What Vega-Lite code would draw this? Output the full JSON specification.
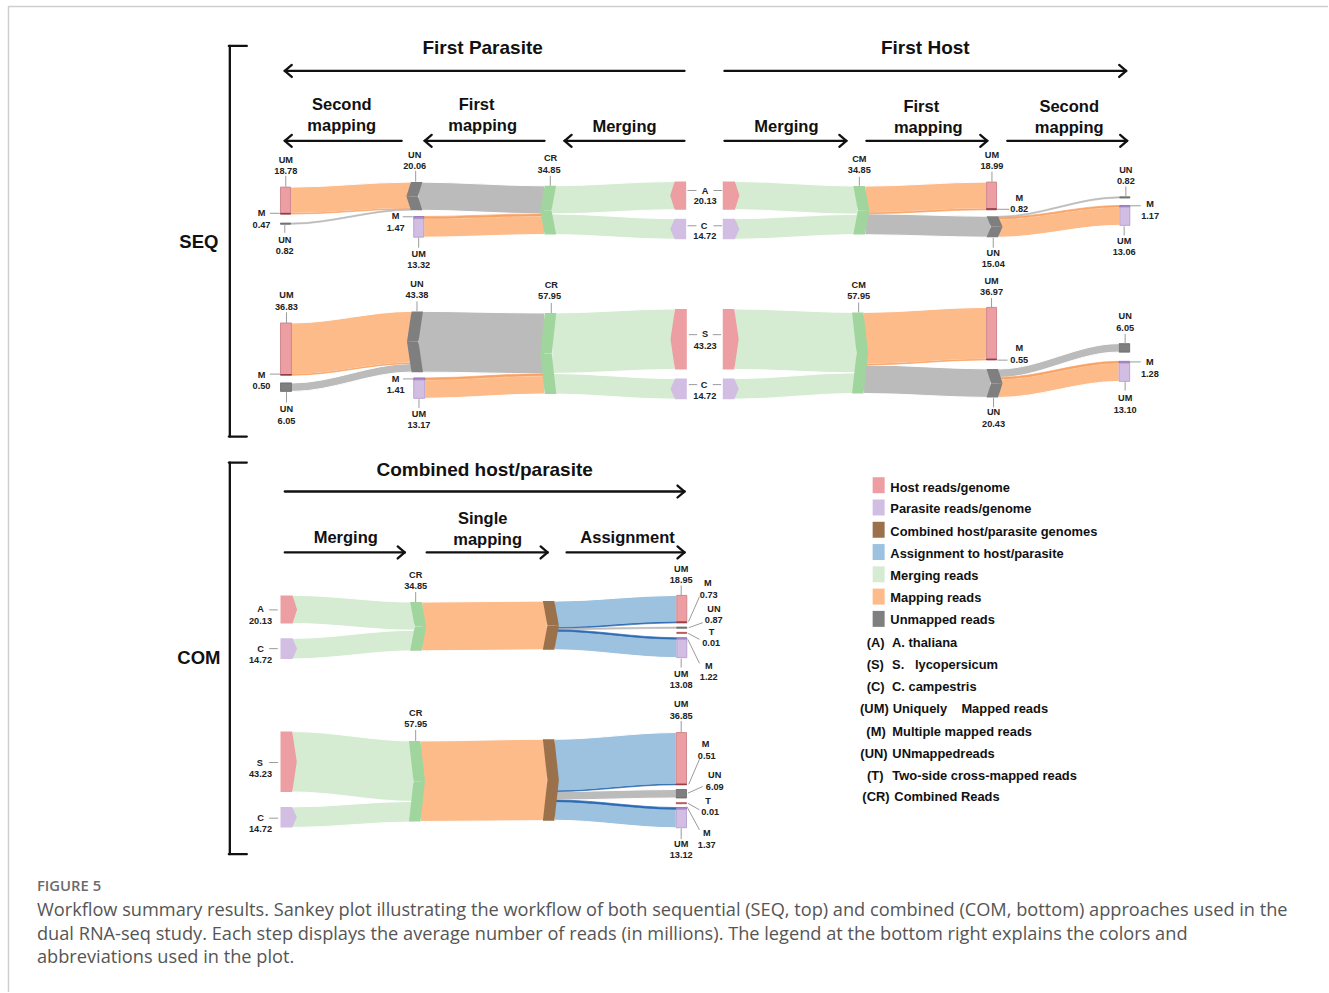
{
"$schema": "https://vega.github.io/schema/vega-lite/v6.json",
"width": 1329, "height": 993,
"autosize": {"type": "fit", "contains": "padding"},
"padding": 0,
"background": "white",
"config": {"view": {"stroke": null}},
"datasets": {
"frame": [{"x":8,"y":6.5,"x2":1329,"y2":6.5},{"x":8.5,"y":6,"x2":8.5,"y2":993}],
"flows": [
{"f":"F1","c":"map","x":290.7,"y":187.3,"y2":213.6},{"f":"F1","c":"map","x":292.2,"y":187.3,"y2":213.6},{"f":"F1","c":"map","x":409.7,"y":182.3,"y2":208.6},{"f":"F1","c":"map","x":411.2,"y":182.3,"y2":208.6},
{"f":"F4","c":"unm","x":418.2,"y":182.3,"y2":210.4},{"f":"F4","c":"unm","x":419.7,"y":182.3,"y2":210.4},{"f":"F4","c":"unm","x":543.5,"y":186,"y2":214.1},{"f":"F4","c":"unm","x":545,"y":186,"y2":214.1},
{"f":"F6","c":"map","x":424,"y":218.8,"y2":237.4},{"f":"F6","c":"map","x":425.5,"y":218.8,"y2":237.4},{"f":"F6","c":"map","x":543.5,"y":216.2,"y2":234.8},{"f":"F6","c":"map","x":545,"y":216.2,"y2":234.8},
{"f":"F7","c":"merge","x":552,"y":186,"y2":214.2},{"f":"F7","c":"merge","x":553.5,"y":186,"y2":214.2},{"f":"F7","c":"merge","x":673.7,"y":181.7,"y2":209.9},{"f":"F7","c":"merge","x":675.2,"y":181.7,"y2":209.9},
{"f":"F8","c":"merge","x":552,"y":214.2,"y2":234.8},{"f":"F8","c":"merge","x":553.5,"y":214.2,"y2":234.8},{"f":"F8","c":"merge","x":673.7,"y":218.9,"y2":239.5},{"f":"F8","c":"merge","x":675.2,"y":218.9,"y2":239.5},
{"f":"F9","c":"merge","x":735.5,"y":181.7,"y2":209.9},{"f":"F9","c":"merge","x":737,"y":181.7,"y2":209.9},{"f":"F9","c":"merge","x":857,"y":186.3,"y2":214.5},{"f":"F9","c":"merge","x":858.5,"y":186.3,"y2":214.5},
{"f":"F10","c":"merge","x":735.5,"y":218.9,"y2":239.5},{"f":"F10","c":"merge","x":737,"y":218.9,"y2":239.5},{"f":"F10","c":"merge","x":857,"y":214.5,"y2":234.8},{"f":"F10","c":"merge","x":858.5,"y":214.5,"y2":234.8},
{"f":"F11","c":"map","x":865.5,"y":186.3,"y2":212.9},{"f":"F11","c":"map","x":867,"y":186.3,"y2":212.9},{"f":"F11","c":"map","x":985.8,"y":182.3,"y2":208.9},{"f":"F11","c":"map","x":987.3,"y":182.3,"y2":208.9},
{"f":"F13","c":"unm","x":865.5,"y":214,"y2":235},{"f":"F13","c":"unm","x":867,"y":214,"y2":235},{"f":"F13","c":"unm","x":990.3,"y":216.5,"y2":237.5},{"f":"F13","c":"unm","x":991.8,"y":216.5,"y2":237.5},
{"f":"F16","c":"map","x":998.8,"y":219.2,"y2":237.5},{"f":"F16","c":"map","x":1000.3,"y":219.2,"y2":237.5},{"f":"F16","c":"map","x":1119.2,"y":207.3,"y2":225.6},{"f":"F16","c":"map","x":1120.7,"y":207.3,"y2":225.6},
{"f":"G1","c":"map","x":291.7,"y":323.3,"y2":374.9},{"f":"G1","c":"map","x":293.2,"y":323.3,"y2":374.9},{"f":"G1","c":"map","x":410.3,"y":311.7,"y2":363.3},{"f":"G1","c":"map","x":411.8,"y":311.7,"y2":363.3},
{"f":"G3","c":"unm","x":291.7,"y":383.3,"y2":391.8},{"f":"G3","c":"unm","x":293.2,"y":383.3,"y2":391.8},{"f":"G3","c":"unm","x":410.3,"y":364,"y2":372.5},{"f":"G3","c":"unm","x":411.8,"y":364,"y2":372.5},
{"f":"G4","c":"unm","x":418.8,"y":311.7,"y2":372.5},{"f":"G4","c":"unm","x":420.3,"y":311.7,"y2":372.5},{"f":"G4","c":"unm","x":543.7,"y":313.3,"y2":374.1},{"f":"G4","c":"unm","x":545.2,"y":313.3,"y2":374.1},
{"f":"G6","c":"map","x":425,"y":380.3,"y2":398.7},{"f":"G6","c":"map","x":426.5,"y":380.3,"y2":398.7},{"f":"G6","c":"map","x":543.7,"y":376.1,"y2":394.4},{"f":"G6","c":"map","x":545.2,"y":376.1,"y2":394.4},
{"f":"G7","c":"merge","x":552.2,"y":313.3,"y2":373.8},{"f":"G7","c":"merge","x":553.7,"y":313.3,"y2":373.8},{"f":"G7","c":"merge","x":674,"y":309.3,"y2":369.8},{"f":"G7","c":"merge","x":675.5,"y":309.3,"y2":369.8},
{"f":"G8","c":"merge","x":552.2,"y":373.8,"y2":394.4},{"f":"G8","c":"merge","x":553.7,"y":373.8,"y2":394.4},{"f":"G8","c":"merge","x":674,"y":379,"y2":399.6},{"f":"G8","c":"merge","x":675.5,"y":379,"y2":399.6},
{"f":"G9","c":"merge","x":734.8,"y":309.3,"y2":369.8},{"f":"G9","c":"merge","x":736.3,"y":309.3,"y2":369.8},{"f":"G9","c":"merge","x":855.7,"y":312.7,"y2":373.2},{"f":"G9","c":"merge","x":857.2,"y":312.7,"y2":373.2},
{"f":"G10","c":"merge","x":734.8,"y":379,"y2":399.6},{"f":"G10","c":"merge","x":736.3,"y":379,"y2":399.6},{"f":"G10","c":"merge","x":855.7,"y":373.2,"y2":393.8},{"f":"G10","c":"merge","x":857.2,"y":373.2,"y2":393.8},
{"f":"G11","c":"map","x":864.2,"y":312.7,"y2":364.5},{"f":"G11","c":"map","x":865.7,"y":312.7,"y2":364.5},{"f":"G11","c":"map","x":985.8,"y":307.7,"y2":359.5},{"f":"G11","c":"map","x":987.3,"y":307.7,"y2":359.5},
{"f":"G13","c":"unm","x":864.2,"y":365.3,"y2":393.9},{"f":"G13","c":"unm","x":865.7,"y":365.3,"y2":393.9},{"f":"G13","c":"unm","x":990.3,"y":369.3,"y2":397.9},{"f":"G13","c":"unm","x":991.8,"y":369.3,"y2":397.9},
{"f":"G14","c":"unm","x":998.8,"y":369.3,"y2":377.8},{"f":"G14","c":"unm","x":1000.3,"y":369.3,"y2":377.8},{"f":"G14","c":"unm","x":1118.5,"y":344,"y2":352.5},{"f":"G14","c":"unm","x":1120,"y":344,"y2":352.5},
{"f":"G16","c":"map","x":998.8,"y":379.6,"y2":397.9},{"f":"G16","c":"map","x":1000.3,"y":379.6,"y2":397.9},{"f":"G16","c":"map","x":1118.5,"y":363.5,"y2":381.8},{"f":"G16","c":"map","x":1120,"y":363.5,"y2":381.8},
{"f":"H1","c":"merge","x":292.8,"y":596,"y2":624.2},{"f":"H1","c":"merge","x":294.3,"y":596,"y2":624.2},{"f":"H1","c":"merge","x":413.5,"y":602.7,"y2":630.9},{"f":"H1","c":"merge","x":415,"y":602.7,"y2":630.9},
{"f":"H2","c":"merge","x":292.8,"y":639,"y2":659.6},{"f":"H2","c":"merge","x":294.3,"y":639,"y2":659.6},{"f":"H2","c":"merge","x":413.5,"y":630.9,"y2":651.5},{"f":"H2","c":"merge","x":415,"y":630.9,"y2":651.5},
{"f":"H3","c":"map","x":422,"y":602.7,"y2":651.5},{"f":"H3","c":"map","x":423.5,"y":602.7,"y2":651.5},{"f":"H3","c":"map","x":546.3,"y":601.7,"y2":650.5},{"f":"H3","c":"map","x":547.8,"y":601.7,"y2":650.5},
{"f":"H4","c":"assign","x":554.8,"y":601.7,"y2":628.2},{"f":"H4","c":"assign","x":556.3,"y":601.7,"y2":628.2},{"f":"H4","c":"assign","x":675.8,"y":596,"y2":622.5},{"f":"H4","c":"assign","x":677.3,"y":596,"y2":622.5},
{"f":"H9","c":"assign","x":554.8,"y":632.1,"y2":650.5},{"f":"H9","c":"assign","x":556.3,"y":632.1,"y2":650.5},{"f":"H9","c":"assign","x":675.8,"y":640,"y2":658.3},{"f":"H9","c":"assign","x":677.3,"y":640,"y2":658.3},
{"f":"I1","c":"merge","x":292.5,"y":732.3,"y2":792.8},{"f":"I1","c":"merge","x":294,"y":732.3,"y2":792.8},{"f":"I1","c":"merge","x":412.3,"y":741.7,"y2":802.2},{"f":"I1","c":"merge","x":413.8,"y":741.7,"y2":802.2},
{"f":"I2","c":"merge","x":292.5,"y":807.7,"y2":828.3},{"f":"I2","c":"merge","x":294,"y":807.7,"y2":828.3},{"f":"I2","c":"merge","x":412.3,"y":802.2,"y2":822.8},{"f":"I2","c":"merge","x":413.8,"y":802.2,"y2":822.8},
{"f":"I3","c":"map","x":420.8,"y":741.7,"y2":822.3},{"f":"I3","c":"map","x":422.3,"y":741.7,"y2":822.3},{"f":"I3","c":"map","x":546.3,"y":740,"y2":821.5},{"f":"I3","c":"map","x":547.8,"y":740,"y2":821.5},
{"f":"I4","c":"assign","x":554.8,"y":740,"y2":791.6},{"f":"I4","c":"assign","x":556.3,"y":740,"y2":791.6},{"f":"I4","c":"assign","x":675.2,"y":733.3,"y2":784.9},{"f":"I4","c":"assign","x":676.7,"y":733.3,"y2":784.9},
{"f":"I6","c":"unm","x":554.8,"y":792.3,"y2":800.8},{"f":"I6","c":"unm","x":556.3,"y":792.3,"y2":800.8},{"f":"I6","c":"unm","x":675.2,"y":790.3,"y2":798.8},{"f":"I6","c":"unm","x":676.7,"y":790.3,"y2":798.8},
{"f":"I9","c":"assign","x":554.8,"y":802.7,"y2":821.1},{"f":"I9","c":"assign","x":556.3,"y":802.7,"y2":821.1},{"f":"I9","c":"assign","x":675.2,"y":810.2,"y2":828.6},{"f":"I9","c":"assign","x":676.7,"y":810.2,"y2":828.6}
],
"thin": [
{"f":"F2","c":"mapM","x":290.7,"y":213.6,"y2":214.3},{"f":"F2","c":"mapM","x":292.2,"y":213.6,"y2":214.3},{"f":"F2","c":"mapM","x":409.7,"y":208.6,"y2":209.3},{"f":"F2","c":"mapM","x":411.2,"y":208.6,"y2":209.3},
{"f":"F3","c":"unm","x":290.7,"y":223.3,"y2":224.4},{"f":"F3","c":"unm","x":292.2,"y":223.3,"y2":224.4},{"f":"F3","c":"unm","x":409.7,"y":209.3,"y2":210.4},{"f":"F3","c":"unm","x":411.2,"y":209.3,"y2":210.4},
{"f":"F5","c":"mapM","x":424,"y":216.7,"y2":218.8},{"f":"F5","c":"mapM","x":425.5,"y":216.7,"y2":218.8},{"f":"F5","c":"mapM","x":543.5,"y":214.1,"y2":216.2},{"f":"F5","c":"mapM","x":545,"y":214.1,"y2":216.2},
{"f":"F12","c":"mapM","x":865.5,"y":212.9,"y2":214},{"f":"F12","c":"mapM","x":867,"y":212.9,"y2":214},{"f":"F12","c":"mapM","x":985.8,"y":208.9,"y2":210},{"f":"F12","c":"mapM","x":987.3,"y":208.9,"y2":210},
{"f":"F14","c":"unm","x":998.8,"y":216.5,"y2":217.6},{"f":"F14","c":"unm","x":1000.3,"y":216.5,"y2":217.6},{"f":"F14","c":"unm","x":1119.2,"y":197,"y2":198.2},{"f":"F14","c":"unm","x":1120.7,"y":197,"y2":198.2},
{"f":"F15","c":"mapM","x":998.8,"y":217.6,"y2":219.2},{"f":"F15","c":"mapM","x":1000.3,"y":217.6,"y2":219.2},{"f":"F15","c":"mapM","x":1119.2,"y":205.7,"y2":207.3},{"f":"F15","c":"mapM","x":1120.7,"y":205.7,"y2":207.3},
{"f":"G2","c":"mapM","x":291.7,"y":374.9,"y2":375.6},{"f":"G2","c":"mapM","x":293.2,"y":374.9,"y2":375.6},{"f":"G2","c":"mapM","x":410.3,"y":363.3,"y2":364},{"f":"G2","c":"mapM","x":411.8,"y":363.3,"y2":364},
{"f":"G5","c":"mapM","x":425,"y":378.3,"y2":380.3},{"f":"G5","c":"mapM","x":426.5,"y":378.3,"y2":380.3},{"f":"G5","c":"mapM","x":543.7,"y":374.1,"y2":376.1},{"f":"G5","c":"mapM","x":545.2,"y":374.1,"y2":376.1},
{"f":"G12","c":"mapM","x":864.2,"y":364.5,"y2":365.3},{"f":"G12","c":"mapM","x":865.7,"y":364.5,"y2":365.3},{"f":"G12","c":"mapM","x":985.8,"y":359.5,"y2":360.3},{"f":"G12","c":"mapM","x":987.3,"y":359.5,"y2":360.3},
{"f":"G15","c":"mapM","x":998.8,"y":377.8,"y2":379.6},{"f":"G15","c":"mapM","x":1000.3,"y":377.8,"y2":379.6},{"f":"G15","c":"mapM","x":1118.5,"y":361.7,"y2":363.5},{"f":"G15","c":"mapM","x":1120,"y":361.7,"y2":363.5},
{"f":"H5","c":"assignM","x":554.8,"y":628.2,"y2":629.2},{"f":"H5","c":"assignM","x":556.3,"y":628.2,"y2":629.2},{"f":"H5","c":"assignM","x":675.8,"y":622.5,"y2":623.5},{"f":"H5","c":"assignM","x":677.3,"y":622.5,"y2":623.5},
{"f":"H6","c":"unm","x":554.8,"y":629.2,"y2":630.4},{"f":"H6","c":"unm","x":556.3,"y":629.2,"y2":630.4},{"f":"H6","c":"unm","x":675.8,"y":627.7,"y2":628.9},{"f":"H6","c":"unm","x":677.3,"y":627.7,"y2":628.9},
{"f":"H8","c":"assignM","x":554.8,"y":630.4,"y2":632.1},{"f":"H8","c":"assignM","x":556.3,"y":630.4,"y2":632.1},{"f":"H8","c":"assignM","x":675.8,"y":638.3,"y2":640},{"f":"H8","c":"assignM","x":677.3,"y":638.3,"y2":640},
{"f":"I5","c":"assignM","x":554.8,"y":791.6,"y2":792.3},{"f":"I5","c":"assignM","x":556.3,"y":791.6,"y2":792.3},{"f":"I5","c":"assignM","x":675.2,"y":784.9,"y2":785.6},{"f":"I5","c":"assignM","x":676.7,"y":784.9,"y2":785.6},
{"f":"I8","c":"assignM","x":554.8,"y":800.8,"y2":802.7},{"f":"I8","c":"assignM","x":556.3,"y":800.8,"y2":802.7},{"f":"I8","c":"assignM","x":675.2,"y":808.3,"y2":810.2},{"f":"I8","c":"assignM","x":676.7,"y":808.3,"y2":810.2}
],
"shapes": [
{"f":"C1a","c":"unmnode","x":406.7,"y":196.35,"y2":196.35},{"f":"C1a","c":"unmnode","x":411.2,"y":182.3,"y2":196.35},{"f":"C1a","c":"unmnode","x":418.2,"y":182.3,"y2":196.35},{"f":"C1a","c":"unmnode","x":422.7,"y":182.3,"y2":182.3},
{"f":"C1b","c":"unmnode","x":406.7,"y":196.35,"y2":196.35},{"f":"C1b","c":"unmnode","x":411.2,"y":196.35,"y2":210.4},{"f":"C1b","c":"unmnode","x":418.2,"y":196.35,"y2":210.4},{"f":"C1b","c":"unmnode","x":422.7,"y":210.4,"y2":210.4},
{"f":"C2a","c":"mergenode","x":540.5,"y":210.4,"y2":210.4},{"f":"C2a","c":"mergenode","x":545,"y":186,"y2":210.4},{"f":"C2a","c":"mergenode","x":552,"y":186,"y2":210.4},{"f":"C2a","c":"mergenode","x":556.5,"y":186,"y2":186},
{"f":"C2b","c":"mergenode","x":540.5,"y":210.4,"y2":210.4},{"f":"C2b","c":"mergenode","x":545,"y":210.4,"y2":234.8},{"f":"C2b","c":"mergenode","x":552,"y":210.4,"y2":234.8},{"f":"C2b","c":"mergenode","x":556.5,"y":234.8,"y2":234.8},
{"f":"C3a","c":"mergenode","x":854,"y":186.3,"y2":186.3},{"f":"C3a","c":"mergenode","x":858.5,"y":186.3,"y2":210.55},{"f":"C3a","c":"mergenode","x":865.5,"y":186.3,"y2":210.55},{"f":"C3a","c":"mergenode","x":870,"y":210.55,"y2":210.55},
{"f":"C3b","c":"mergenode","x":854,"y":234.8,"y2":234.8},{"f":"C3b","c":"mergenode","x":858.5,"y":210.55,"y2":234.8},{"f":"C3b","c":"mergenode","x":865.5,"y":210.55,"y2":234.8},{"f":"C3b","c":"mergenode","x":870,"y":210.55,"y2":210.55},
{"f":"C4a","c":"unmnode","x":987.3,"y":216.5,"y2":216.5},{"f":"C4a","c":"unmnode","x":991.8,"y":216.5,"y2":227},{"f":"C4a","c":"unmnode","x":998.8,"y":216.5,"y2":227},{"f":"C4a","c":"unmnode","x":1003.3,"y":227,"y2":227},
{"f":"C4b","c":"unmnode","x":987.3,"y":237.5,"y2":237.5},{"f":"C4b","c":"unmnode","x":991.8,"y":227,"y2":237.5},{"f":"C4b","c":"unmnode","x":998.8,"y":227,"y2":237.5},{"f":"C4b","c":"unmnode","x":1003.3,"y":227,"y2":227},
{"f":"C5a","c":"unmnode","x":407.3,"y":342.1,"y2":342.1},{"f":"C5a","c":"unmnode","x":411.8,"y":311.7,"y2":342.1},{"f":"C5a","c":"unmnode","x":418.8,"y":311.7,"y2":342.1},{"f":"C5a","c":"unmnode","x":423.3,"y":311.7,"y2":311.7},
{"f":"C5b","c":"unmnode","x":407.3,"y":342.1,"y2":342.1},{"f":"C5b","c":"unmnode","x":411.8,"y":342.1,"y2":372.5},{"f":"C5b","c":"unmnode","x":418.8,"y":342.1,"y2":372.5},{"f":"C5b","c":"unmnode","x":423.3,"y":372.5,"y2":372.5},
{"f":"C6a","c":"mergenode","x":540.7,"y":353.85,"y2":353.85},{"f":"C6a","c":"mergenode","x":545.2,"y":313.3,"y2":353.85},{"f":"C6a","c":"mergenode","x":552.2,"y":313.3,"y2":353.85},{"f":"C6a","c":"mergenode","x":556.7,"y":313.3,"y2":313.3},
{"f":"C6b","c":"mergenode","x":540.7,"y":353.85,"y2":353.85},{"f":"C6b","c":"mergenode","x":545.2,"y":353.85,"y2":394.4},{"f":"C6b","c":"mergenode","x":552.2,"y":353.85,"y2":394.4},{"f":"C6b","c":"mergenode","x":556.7,"y":394.4,"y2":394.4},
{"f":"C7a","c":"mergenode","x":852.7,"y":312.7,"y2":312.7},{"f":"C7a","c":"mergenode","x":857.2,"y":312.7,"y2":353.25},{"f":"C7a","c":"mergenode","x":864.2,"y":312.7,"y2":353.25},{"f":"C7a","c":"mergenode","x":868.7,"y":353.25,"y2":353.25},
{"f":"C7b","c":"mergenode","x":852.7,"y":393.8,"y2":393.8},{"f":"C7b","c":"mergenode","x":857.2,"y":353.25,"y2":393.8},{"f":"C7b","c":"mergenode","x":864.2,"y":353.25,"y2":393.8},{"f":"C7b","c":"mergenode","x":868.7,"y":353.25,"y2":353.25},
{"f":"C8a","c":"unmnode","x":987.3,"y":369.3,"y2":369.3},{"f":"C8a","c":"unmnode","x":991.8,"y":369.3,"y2":383.6},{"f":"C8a","c":"unmnode","x":998.8,"y":369.3,"y2":383.6},{"f":"C8a","c":"unmnode","x":1003.3,"y":383.6,"y2":383.6},
{"f":"C8b","c":"unmnode","x":987.3,"y":397.9,"y2":397.9},{"f":"C8b","c":"unmnode","x":991.8,"y":383.6,"y2":397.9},{"f":"C8b","c":"unmnode","x":998.8,"y":383.6,"y2":397.9},{"f":"C8b","c":"unmnode","x":1003.3,"y":383.6,"y2":383.6},
{"f":"C9a","c":"mergenode","x":410.5,"y":602.7,"y2":602.7},{"f":"C9a","c":"mergenode","x":415,"y":602.7,"y2":627.1},{"f":"C9a","c":"mergenode","x":422,"y":602.7,"y2":627.1},{"f":"C9a","c":"mergenode","x":426.5,"y":627.1,"y2":627.1},
{"f":"C9b","c":"mergenode","x":410.5,"y":651.5,"y2":651.5},{"f":"C9b","c":"mergenode","x":415,"y":627.1,"y2":651.5},{"f":"C9b","c":"mergenode","x":422,"y":627.1,"y2":651.5},{"f":"C9b","c":"mergenode","x":426.5,"y":627.1,"y2":627.1},
{"f":"C10a","c":"comb","x":543.3,"y":601.7,"y2":601.7},{"f":"C10a","c":"comb","x":547.8,"y":601.7,"y2":626.1},{"f":"C10a","c":"comb","x":554.8,"y":601.7,"y2":626.1},{"f":"C10a","c":"comb","x":559.3,"y":626.1,"y2":626.1},
{"f":"C10b","c":"comb","x":543.3,"y":650.5,"y2":650.5},{"f":"C10b","c":"comb","x":547.8,"y":626.1,"y2":650.5},{"f":"C10b","c":"comb","x":554.8,"y":626.1,"y2":650.5},{"f":"C10b","c":"comb","x":559.3,"y":626.1,"y2":626.1},
{"f":"C11a","c":"mergenode","x":409.3,"y":741.7,"y2":741.7},{"f":"C11a","c":"mergenode","x":413.8,"y":741.7,"y2":782},{"f":"C11a","c":"mergenode","x":420.8,"y":741.7,"y2":782},{"f":"C11a","c":"mergenode","x":425.3,"y":782,"y2":782},
{"f":"C11b","c":"mergenode","x":409.3,"y":822.3,"y2":822.3},{"f":"C11b","c":"mergenode","x":413.8,"y":782,"y2":822.3},{"f":"C11b","c":"mergenode","x":420.8,"y":782,"y2":822.3},{"f":"C11b","c":"mergenode","x":425.3,"y":782,"y2":782},
{"f":"C12a","c":"comb","x":543.3,"y":740,"y2":740},{"f":"C12a","c":"comb","x":547.8,"y":740,"y2":780.75},{"f":"C12a","c":"comb","x":554.8,"y":740,"y2":780.75},{"f":"C12a","c":"comb","x":559.3,"y":780.75,"y2":780.75},
{"f":"C12b","c":"comb","x":543.3,"y":821.5,"y2":821.5},{"f":"C12b","c":"comb","x":547.8,"y":780.75,"y2":821.5},{"f":"C12b","c":"comb","x":554.8,"y":780.75,"y2":821.5},{"f":"C12b","c":"comb","x":559.3,"y":780.75,"y2":780.75},
{"f":"P1","c":"host","x":670.7,"y":195.8,"y2":195.8},{"f":"P1","c":"host","x":675.2,"y":181.7,"y2":209.9},{"f":"P1","c":"host","x":686.7,"y":181.7,"y2":209.9},
{"f":"P2","c":"para","x":670.7,"y":229.2,"y2":229.2},{"f":"P2","c":"para","x":675.2,"y":218.9,"y2":239.5},{"f":"P2","c":"para","x":686.7,"y":218.9,"y2":239.5},
{"f":"P3","c":"host","x":723.3,"y":181.7,"y2":209.9},{"f":"P3","c":"host","x":735.5,"y":181.7,"y2":209.9},{"f":"P3","c":"host","x":740,"y":195.8,"y2":195.8},
{"f":"P4","c":"para","x":723.3,"y":218.9,"y2":239.5},{"f":"P4","c":"para","x":735.5,"y":218.9,"y2":239.5},{"f":"P4","c":"para","x":740,"y":229.2,"y2":229.2},
{"f":"P5","c":"host","x":671,"y":339.55,"y2":339.55},{"f":"P5","c":"host","x":675.5,"y":309.3,"y2":369.8},{"f":"P5","c":"host","x":687.3,"y":309.3,"y2":369.8},
{"f":"P6","c":"para","x":671,"y":389.3,"y2":389.3},{"f":"P6","c":"para","x":675.5,"y":379,"y2":399.6},{"f":"P6","c":"para","x":687.3,"y":379,"y2":399.6},
{"f":"P7","c":"host","x":723.3,"y":309.3,"y2":369.8},{"f":"P7","c":"host","x":734.8,"y":309.3,"y2":369.8},{"f":"P7","c":"host","x":739.3,"y":339.55,"y2":339.55},
{"f":"P8","c":"para","x":723.3,"y":379,"y2":399.6},{"f":"P8","c":"para","x":734.8,"y":379,"y2":399.6},{"f":"P8","c":"para","x":739.3,"y":389.3,"y2":389.3},
{"f":"P9","c":"host","x":280.7,"y":596,"y2":624.2},{"f":"P9","c":"host","x":292.8,"y":596,"y2":624.2},{"f":"P9","c":"host","x":297.3,"y":610.1,"y2":610.1},
{"f":"P10","c":"para","x":280.7,"y":639,"y2":659.6},{"f":"P10","c":"para","x":292.8,"y":639,"y2":659.6},{"f":"P10","c":"para","x":297.3,"y":649.3,"y2":649.3},
{"f":"P11","c":"host","x":280.7,"y":732.3,"y2":792.8},{"f":"P11","c":"host","x":292.5,"y":732.3,"y2":792.8},{"f":"P11","c":"host","x":297,"y":762.55,"y2":762.55},
{"f":"P12","c":"para","x":280.7,"y":807.7,"y2":828.3},{"f":"P12","c":"para","x":292.5,"y":807.7,"y2":828.3},{"f":"P12","c":"para","x":297,"y":818,"y2":818}
],
"rects": [
{"c":"host","x":280.7,"x2":290.7,"y":187.3,"y2":213.6},{"c":"hostM","x":280.7,"x2":290.7,"y":213.6,"y2":214.4},{"c":"unmnode","x":280.7,"x2":290.7,"y":223.3,"y2":224.5},
{"c":"paraM","x":414,"x2":424,"y":216.7,"y2":218.8},{"c":"para","x":414,"x2":424,"y":218.8,"y2":237.4},
{"c":"host","x":987.3,"x2":997.3,"y":182.3,"y2":208.9},{"c":"hostM","x":987.3,"x2":997.3,"y":208.9,"y2":210},
{"c":"unmnode","x":1120.7,"x2":1130.7,"y":197,"y2":198.2},{"c":"paraM","x":1120.7,"x2":1130.7,"y":205.7,"y2":207.3},{"c":"para","x":1120.7,"x2":1130.7,"y":207.3,"y2":225.6},
{"c":"host","x":280.7,"x2":291.7,"y":323.3,"y2":374.9},{"c":"hostM","x":280.7,"x2":291.7,"y":374.9,"y2":375.6},{"c":"unmnode","x":280.7,"x2":291.7,"y":383.3,"y2":391.8},
{"c":"paraM","x":414,"x2":425,"y":378.3,"y2":380.3},{"c":"para","x":414,"x2":425,"y":380.3,"y2":398.7},
{"c":"host","x":987.3,"x2":997.3,"y":307.7,"y2":359.5},{"c":"hostM","x":987.3,"x2":997.3,"y":359.5,"y2":360.3},
{"c":"unmnode","x":1120,"x2":1130.5,"y":344,"y2":352.5},{"c":"paraM","x":1120,"x2":1130.5,"y":361.7,"y2":363.5},{"c":"para","x":1120,"x2":1130.5,"y":363.5,"y2":381.8},
{"c":"host","x":677.3,"x2":687.3,"y":596,"y2":622.5},{"c":"hostM","x":677.3,"x2":687.3,"y":622.5,"y2":623.5},{"c":"unmnode","x":677.3,"x2":687.3,"y":627.7,"y2":628.9},
{"c":"T","x":677.3,"x2":687.3,"y":633,"y2":634},{"c":"paraM","x":677.3,"x2":687.3,"y":638.3,"y2":640},{"c":"para","x":677.3,"x2":687.3,"y":640,"y2":658.3},
{"c":"host","x":676.7,"x2":687,"y":733.3,"y2":784.9},{"c":"hostM","x":676.7,"x2":687,"y":784.9,"y2":785.6},{"c":"unmnode","x":676.7,"x2":687,"y":790.3,"y2":798.8},
{"c":"T","x":676.7,"x2":687,"y":803.5,"y2":804.5},{"c":"paraM","x":676.7,"x2":687,"y":808.3,"y2":810.2},{"c":"para","x":676.7,"x2":687,"y":810.2,"y2":828.6}
],
"legend": [
{"c":"host","x":873.3,"x2":885.3,"y":477.7,"y2":493.7},{"c":"para","x":873.3,"x2":885.3,"y":500,"y2":516},{"c":"comb","x":873.3,"x2":885.3,"y":522.3,"y2":538.3},
{"c":"assign","x":873.3,"x2":885.3,"y":544.6,"y2":560.6},{"c":"merge","x":873.3,"x2":885.3,"y":566.9,"y2":582.9},{"c":"map","x":873.3,"x2":885.3,"y":589.2,"y2":605.2},{"c":"unmnode","x":873.3,"x2":885.3,"y":611.5,"y2":627.5}
],
"leaders": [
{"x":286,"y":176,"x2":286,"y2":187},{"x":270,"y":213.5,"x2":280,"y2":213.5},{"x":285,"y":225,"x2":285,"y2":233},
{"x":416,"y":171,"x2":416,"y2":182},{"x":403,"y":217,"x2":413,"y2":217},{"x":419,"y":238,"x2":419,"y2":248},
{"x":550.7,"y":176,"x2":550.7,"y2":186},{"x":688,"y":190.7,"x2":697,"y2":190.7},{"x":714,"y":190.7,"x2":722.7,"y2":190.7},
{"x":688,"y":226,"x2":697,"y2":226},{"x":714,"y":226,"x2":722.7,"y2":226},{"x":860,"y":177,"x2":860,"y2":186},
{"x":992.7,"y":171.7,"x2":992.7,"y2":182},{"x":997.3,"y":209.5,"x2":1010,"y2":209.5},{"x":994,"y":238,"x2":994,"y2":248},
{"x":1126.7,"y":186.7,"x2":1126.7,"y2":196.7},{"x":1131,"y":206,"x2":1141.7,"y2":206},{"x":1125,"y":226.5,"x2":1125,"y2":235.7},
{"x":286.7,"y":312.7,"x2":286.7,"y2":323.3},{"x":270,"y":374.5,"x2":280.7,"y2":374.5},{"x":286.7,"y":392.5,"x2":286.7,"y2":403},
{"x":417.3,"y":301.7,"x2":417.3,"y2":311.7},{"x":403.3,"y":379.3,"x2":413.3,"y2":379.3},{"x":419.3,"y":399.5,"x2":419.3,"y2":408.3},
{"x":551.7,"y":303.3,"x2":551.7,"y2":313.3},{"x":689.3,"y":335,"x2":697.7,"y2":335},{"x":713.3,"y":335,"x2":721.7,"y2":335},
{"x":689.3,"y":385,"x2":697.7,"y2":385},{"x":713.3,"y":385,"x2":721.7,"y2":385},{"x":859.3,"y":302.7,"x2":859.3,"y2":312.7},
{"x":992.3,"y":298.3,"x2":992.3,"y2":307.7},{"x":998.3,"y":360.5,"x2":1008.3,"y2":360.5},{"x":994.3,"y":398.3,"x2":994.3,"y2":407.7},
{"x":1126,"y":334.3,"x2":1126,"y2":344},{"x":1131,"y":362.3,"x2":1141.7,"y2":362.3},{"x":1126,"y":382.3,"x2":1126,"y2":391},
{"x":269.3,"y":610.5,"x2":278,"y2":610.5},{"x":269.3,"y":649.3,"x2":278,"y2":649.3},{"x":416,"y":592.7,"x2":416,"y2":602.7},
{"x":681.7,"y":586,"x2":681.7,"y2":596},{"x":689,"y":622.3,"x2":700,"y2":597.3},{"x":689.3,"y":628.3,"x2":703.3,"y2":623.3},
{"x":688.7,"y":634,"x2":700,"y2":640},{"x":688.3,"y":640,"x2":700,"y2":664},{"x":681.7,"y":659.3,"x2":681.7,"y2":668.3},
{"x":269.3,"y":763.3,"x2":278.3,"y2":763.3},{"x":269.3,"y":819,"x2":278.3,"y2":819},{"x":416,"y":730.7,"x2":416,"y2":741.7},
{"x":681.7,"y":721.7,"x2":681.7,"y2":733.3},{"x":689.3,"y":785,"x2":700,"y2":760},{"x":688.3,"y":794,"x2":703.3,"y2":787.3},
{"x":688.3,"y":804,"x2":700,"y2":810.7},{"x":687.3,"y":807.3,"x2":700,"y2":830.7},{"x":681.7,"y":829.3,"x2":681.7,"y2":840}
],
"lines": [
{"x":230,"y":46,"x2":230,"y2":437},{"x":229,"y":46,"x2":247,"y2":46},{"x":229,"y":437,"x2":247,"y2":437},
{"x":230,"y":463,"x2":230,"y2":855},{"x":229,"y":463,"x2":247,"y2":463},{"x":229,"y":855,"x2":247,"y2":855},
{"x":285,"y":71,"x2":685,"y2":71},{"x":725,"y":71,"x2":1127,"y2":71},{"x":285,"y":492,"x2":685,"y2":492},
{"x":285,"y":141,"x2":402,"y2":141},{"x":425,"y":141,"x2":545,"y2":141},{"x":565,"y":141,"x2":685,"y2":141},
{"x":725,"y":141,"x2":847,"y2":141},{"x":867,"y":141,"x2":988,"y2":141},{"x":1008,"y":141,"x2":1128,"y2":141},
{"x":285,"y":553,"x2":405,"y2":553},{"x":427,"y":553,"x2":548,"y2":553},{"x":567,"y":553,"x2":685,"y2":553},
{"x":285,"y":71,"x2":292,"y2":65},{"x":285,"y":71,"x2":292,"y2":77},
{"x":1127,"y":71,"x2":1120,"y2":65},{"x":1127,"y":71,"x2":1120,"y2":77},
{"x":685,"y":492,"x2":678,"y2":486},{"x":685,"y":492,"x2":678,"y2":498},
{"x":285,"y":141,"x2":292,"y2":135},{"x":285,"y":141,"x2":292,"y2":147},
{"x":425,"y":141,"x2":432,"y2":135},{"x":425,"y":141,"x2":432,"y2":147},
{"x":565,"y":141,"x2":572,"y2":135},{"x":565,"y":141,"x2":572,"y2":147},
{"x":847,"y":141,"x2":840,"y2":135},{"x":847,"y":141,"x2":840,"y2":147},
{"x":988,"y":141,"x2":981,"y2":135},{"x":988,"y":141,"x2":981,"y2":147},
{"x":1128,"y":141,"x2":1121,"y2":135},{"x":1128,"y":141,"x2":1121,"y2":147},
{"x":405,"y":553,"x2":398,"y2":547},{"x":405,"y":553,"x2":398,"y2":559},
{"x":548,"y":553,"x2":541,"y2":547},{"x":548,"y":553,"x2":541,"y2":559},
{"x":685,"y":553,"x2":678,"y2":547},{"x":685,"y":553,"x2":678,"y2":559}
],
"texts": [
{"g":"n","x":286,"y":160,"t":"UM"},{"g":"n","x":286,"y":171.5,"t":"18.78"},
{"g":"n","x":261.7,"y":213.3,"t":"M"},{"g":"n","x":261.7,"y":225,"t":"0.47"},
{"g":"n","x":285,"y":240,"t":"UN"},{"g":"n","x":285,"y":251.7,"t":"0.82"},
{"g":"n","x":415,"y":155,"t":"UN"},{"g":"n","x":415,"y":166.3,"t":"20.06"},
{"g":"n","x":396,"y":216.7,"t":"M"},{"g":"n","x":396,"y":228.3,"t":"1.47"},
{"g":"n","x":419,"y":254,"t":"UM"},{"g":"n","x":419,"y":265.3,"t":"13.32"},
{"g":"n","x":551,"y":158.3,"t":"CR"},{"g":"n","x":549.5,"y":170,"t":"34.85"},
{"g":"n","x":705.7,"y":190.7,"t":"A"},{"g":"n","x":705.7,"y":201.3,"t":"20.13"},
{"g":"n","x":704.7,"y":226,"t":"C"},{"g":"n","x":705.3,"y":236,"t":"14.72"},
{"g":"n","x":860,"y":159,"t":"CM"},{"g":"n","x":860,"y":170,"t":"34.85"},
{"g":"n","x":992.7,"y":155,"t":"UM"},{"g":"n","x":992.7,"y":166,"t":"18.99"},
{"g":"n","x":1020,"y":198.3,"t":"M"},{"g":"n","x":1020,"y":209.3,"t":"0.82"},
{"g":"n","x":994,"y":253.3,"t":"UN"},{"g":"n","x":994,"y":264.3,"t":"15.04"},
{"g":"n","x":1126.7,"y":170,"t":"UN"},{"g":"n","x":1126.7,"y":181.3,"t":"0.82"},
{"g":"n","x":1151,"y":204.3,"t":"M"},{"g":"n","x":1151,"y":216,"t":"1.17"},
{"g":"n","x":1125,"y":241.7,"t":"UM"},{"g":"n","x":1125,"y":252.7,"t":"13.06"},
{"g":"n","x":286.7,"y":295.7,"t":"UM"},{"g":"n","x":286.7,"y":307.3,"t":"36.83"},
{"g":"n","x":261.7,"y":375,"t":"M"},{"g":"n","x":261.7,"y":386.7,"t":"0.50"},
{"g":"n","x":286.7,"y":409.7,"t":"UN"},{"g":"n","x":286.7,"y":421,"t":"6.05"},
{"g":"n","x":417.3,"y":284,"t":"UN"},{"g":"n","x":417.3,"y":295.3,"t":"43.38"},
{"g":"n","x":396,"y":379.3,"t":"M"},{"g":"n","x":396,"y":390.7,"t":"1.41"},
{"g":"n","x":419.3,"y":414.3,"t":"UM"},{"g":"n","x":419.3,"y":425.7,"t":"13.17"},
{"g":"n","x":551.7,"y":285.7,"t":"CR"},{"g":"n","x":550,"y":296.7,"t":"57.95"},
{"g":"n","x":705.7,"y":334.3,"t":"S"},{"g":"n","x":705.7,"y":346,"t":"43.23"},
{"g":"n","x":704.7,"y":385,"t":"C"},{"g":"n","x":705.3,"y":396.3,"t":"14.72"},
{"g":"n","x":859.3,"y":285,"t":"CM"},{"g":"n","x":859.3,"y":296.7,"t":"57.95"},
{"g":"n","x":992.3,"y":281,"t":"UM"},{"g":"n","x":992.3,"y":292.3,"t":"36.97"},
{"g":"n","x":1020,"y":348.3,"t":"M"},{"g":"n","x":1020,"y":360,"t":"0.55"},
{"g":"n","x":994.3,"y":412.7,"t":"UN"},{"g":"n","x":994.3,"y":424.3,"t":"20.43"},
{"g":"n","x":1126,"y":316.7,"t":"UN"},{"g":"n","x":1126,"y":328,"t":"6.05"},
{"g":"n","x":1150.7,"y":362.7,"t":"M"},{"g":"n","x":1150.7,"y":374.3,"t":"1.28"},
{"g":"n","x":1126,"y":398.3,"t":"UM"},{"g":"n","x":1126,"y":410,"t":"13.10"},
{"g":"n","x":260.7,"y":610,"t":"A"},{"g":"n","x":260.7,"y":621.3,"t":"20.13"},
{"g":"n","x":260.7,"y":649.3,"t":"C"},{"g":"n","x":260.7,"y":660.7,"t":"14.72"},
{"g":"n","x":416,"y":575.7,"t":"CR"},{"g":"n","x":416,"y":587,"t":"34.85"},
{"g":"n","x":681.7,"y":569.7,"t":"UM"},{"g":"n","x":681.7,"y":581,"t":"18.95"},
{"g":"n","x":708.3,"y":584,"t":"M"},{"g":"n","x":709.3,"y":595.3,"t":"0.73"},
{"g":"n","x":714.5,"y":610,"t":"UN"},{"g":"n","x":714.3,"y":621,"t":"0.87"},
{"g":"n","x":712,"y":632.7,"t":"T"},{"g":"n","x":711.7,"y":643.7,"t":"0.01"},
{"g":"n","x":709.3,"y":666.3,"t":"M"},{"g":"n","x":709.3,"y":677.7,"t":"1.22"},
{"g":"n","x":681.7,"y":674.3,"t":"UM"},{"g":"n","x":681.7,"y":685.7,"t":"13.08"},
{"g":"n","x":260,"y":763.3,"t":"S"},{"g":"n","x":260.7,"y":774.3,"t":"43.23"},
{"g":"n","x":260.7,"y":818.7,"t":"C"},{"g":"n","x":260.7,"y":830.3,"t":"14.72"},
{"g":"n","x":416,"y":713.3,"t":"CR"},{"g":"n","x":416,"y":725,"t":"57.95"},
{"g":"n","x":681.7,"y":705,"t":"UM"},{"g":"n","x":681.7,"y":716.7,"t":"36.85"},
{"g":"n","x":706,"y":745,"t":"M"},{"g":"n","x":707.3,"y":756.7,"t":"0.51"},
{"g":"n","x":715.3,"y":775.3,"t":"UN"},{"g":"n","x":715.3,"y":787.3,"t":"6.09"},
{"g":"n","x":708.7,"y":801.7,"t":"T"},{"g":"n","x":710.7,"y":812.7,"t":"0.01"},
{"g":"n","x":707.3,"y":834.3,"t":"M"},{"g":"n","x":707.3,"y":846,"t":"1.37"},
{"g":"n","x":681.7,"y":845,"t":"UM"},{"g":"n","x":681.7,"y":856,"t":"13.12"},
{"g":"t","x":483,"y":48,"t":"First Parasite"},{"g":"t","x":926,"y":48,"t":"First Host"},{"g":"t","x":485,"y":470,"t":"Combined host/parasite"},
{"g":"s","x":342,"y":105,"t":"Second"},{"g":"s","x":342,"y":126,"t":"mapping"},
{"g":"s","x":477,"y":105,"t":"First"},{"g":"s","x":483,"y":126,"t":"mapping"},
{"g":"s","x":625,"y":127,"t":"Merging"},{"g":"s","x":787,"y":127,"t":"Merging"},
{"g":"s","x":922,"y":107,"t":"First"},{"g":"s","x":929,"y":128,"t":"mapping"},
{"g":"s","x":1070,"y":107,"t":"Second"},{"g":"s","x":1070,"y":128,"t":"mapping"},
{"g":"s","x":346,"y":539,"t":"Merging"},{"g":"s","x":483,"y":520,"t":"Single"},{"g":"s","x":488,"y":541,"t":"mapping"},{"g":"s","x":628,"y":539,"t":"Assignment"},
{"g":"h","x":199,"y":242,"t":"SEQ"},{"g":"h","x":199,"y":659,"t":"COM"},
{"g":"l","x":891,"y":488.3,"t":"Host reads/genome"},{"g":"l","x":891,"y":510,"t":"Parasite reads/genome"},
{"g":"l","x":891,"y":532.3,"t":"Combined host/parasite genomes"},{"g":"l","x":891,"y":555,"t":"Assignment to host/parasite"},
{"g":"l","x":891,"y":576.7,"t":"Merging reads"},{"g":"l","x":891,"y":599,"t":"Mapping reads"},{"g":"l","x":891,"y":621,"t":"Unmapped reads"},
{"g":"l","x":867.3,"y":643.3,"t":"(A)"},{"g":"l","x":892.7,"y":643.3,"t":"A. thaliana"},
{"g":"l","x":867.3,"y":665.7,"t":"(S)"},{"g":"l","x":892.7,"y":665.7,"t":"S.\u00a0\u00a0 lycopersicum"},
{"g":"l","x":867.3,"y":687.7,"t":"(C)"},{"g":"l","x":892.7,"y":687.7,"t":"C. campestris"},
{"g":"l","x":860.7,"y":710,"t":"(UM)"},{"g":"l","x":893.3,"y":710,"t":"Uniquely\u00a0\u00a0\u00a0 Mapped reads"},
{"g":"l","x":867,"y":732.3,"t":"(M)"},{"g":"l","x":893,"y":732.3,"t":"Multiple mapped reads"},
{"g":"l","x":861,"y":754.3,"t":"(UN)"},{"g":"l","x":893,"y":754.3,"t":"UNmappedreads"},
{"g":"l","x":867.7,"y":776.7,"t":"(T)"},{"g":"l","x":893,"y":776.7,"t":"Two-side cross-mapped reads"},
{"g":"l","x":863,"y":797.7,"t":"(CR)"},{"g":"l","x":895,"y":797.7,"t":"Combined Reads"},
{"g":"fig","x":37,"y":888,"t":"FIGURE 5"},
{"g":"c","x":37,"y":912,"t":"Workflow summary results. Sankey plot illustrating the workflow of both sequential (SEQ, top) and combined (COM, bottom) approaches used in the"},
{"g":"c","x":37,"y":935.5,"t":"dual RNA-seq study. Each step displays the average number of reads (in millions). The legend at the bottom right explains the colors and"},
{"g":"c","x":37,"y":959,"t":"abbreviations used in the plot."}
]
},
"encoding": {
"x": {"field": "x", "type": "quantitative", "scale": {"domain": [0, 1329], "nice": false, "zero": false}, "axis": null},
"y": {"field": "y", "type": "quantitative", "scale": {"domain": [0, 993], "reverse": true, "nice": false, "zero": false}, "axis": null}
},
"layer": [
{"data": {"name": "frame"}, "mark": {"type": "rule", "color": "#cfcfcf", "strokeWidth": 1.5}, "encoding": {"x2": {"field": "x2"}, "y2": {"field": "y2"}}},
{"data": {"name": "flows"}, "mark": {"type": "area", "interpolate": "monotone", "stroke": "white", "strokeWidth": 1},
 "encoding": {"y2": {"field": "y2"}, "detail": {"field": "f"}, "color": {"field": "c", "type": "nominal", "legend": null, "scale": {"domain": ["merge","map","mapM","unm","assign","assignM","host","hostM","para","paraM","unmnode","mergenode","comb","T"], "range": ["#D5ECD3","#FDBB8A","#F9A264","#BBBBBB","#9CC2E0","#2C6CB2","#EC9EA2","#A9474E","#D2BEE3","#A98CC8","#7F7F7F","#A1D59E","#9A714A","#C4676B"]}}}},
{"data": {"name": "thin"}, "mark": {"type": "area", "interpolate": "monotone"},
 "encoding": {"y2": {"field": "y2"}, "detail": {"field": "f"}, "color": {"field": "c", "type": "nominal", "legend": null, "scale": {"domain": ["merge","map","mapM","unm","assign","assignM","host","hostM","para","paraM","unmnode","mergenode","comb","T"], "range": ["#D5ECD3","#FDBB8A","#F9A264","#BBBBBB","#9CC2E0","#2C6CB2","#EC9EA2","#A9474E","#D2BEE3","#A98CC8","#7F7F7F","#A1D59E","#9A714A","#C4676B"]}}}},
{"data": {"name": "thin"}, "mark": {"type": "area", "interpolate": "monotone", "filled": false, "strokeWidth": 0.7},
 "encoding": {"y2": {"field": "y2"}, "detail": {"field": "f"}, "color": {"field": "c", "type": "nominal", "legend": null, "scale": {"domain": ["merge","map","mapM","unm","assign","assignM","host","hostM","para","paraM","unmnode","mergenode","comb","T"], "range": ["#D5ECD3","#FDBB8A","#F9A264","#BBBBBB","#9CC2E0","#2C6CB2","#EC9EA2","#A9474E","#D2BEE3","#A98CC8","#7F7F7F","#A1D59E","#9A714A","#C4676B"]}}}},
{"data": {"name": "shapes"}, "mark": {"type": "area", "interpolate": "linear"},
 "encoding": {"y2": {"field": "y2"}, "detail": {"field": "f"}, "color": {"field": "c", "type": "nominal", "legend": null, "scale": {"domain": ["merge","map","mapM","unm","assign","assignM","host","hostM","para","paraM","unmnode","mergenode","comb","T"], "range": ["#D5ECD3","#FDBB8A","#F9A264","#BBBBBB","#9CC2E0","#2C6CB2","#EC9EA2","#A9474E","#D2BEE3","#A98CC8","#7F7F7F","#A1D59E","#9A714A","#C4676B"]}}}},
{"data": {"name": "rects"}, "mark": {"type": "rect", "strokeWidth": 0.8},
 "encoding": {"x2": {"field": "x2"}, "y2": {"field": "y2"},
  "color": {"field": "c", "type": "nominal", "legend": null, "scale": {"domain": ["merge","map","mapM","unm","assign","assignM","host","hostM","para","paraM","unmnode","mergenode","comb","T"], "range": ["#D5ECD3","#FDBB8A","#F9A264","#BBBBBB","#9CC2E0","#2C6CB2","#EC9EA2","#A9474E","#D2BEE3","#A98CC8","#7F7F7F","#A1D59E","#9A714A","#C4676B"]}},
  "stroke": {"field": "c", "type": "nominal", "legend": null, "scale": {"domain": ["host","hostM","para","paraM","unmnode","T"], "range": ["#C7797E","#8C343B","#AE96CB","#8A6BAE","#666666","#A9484D"]}}}},
{"data": {"name": "legend"}, "mark": {"type": "rect"},
 "encoding": {"x2": {"field": "x2"}, "y2": {"field": "y2"}, "color": {"field": "c", "type": "nominal", "legend": null, "scale": {"domain": ["merge","map","mapM","unm","assign","assignM","host","hostM","para","paraM","unmnode","mergenode","comb","T"], "range": ["#D5ECD3","#FDBB8A","#F9A264","#BBBBBB","#9CC2E0","#2C6CB2","#EC9EA2","#A9474E","#D2BEE3","#A98CC8","#7F7F7F","#A1D59E","#9A714A","#C4676B"]}}}},
{"data": {"name": "leaders"}, "mark": {"type": "rule", "color": "#9b9b9b", "strokeWidth": 1}, "encoding": {"x2": {"field": "x2"}, "y2": {"field": "y2"}}},
{"data": {"name": "lines"}, "mark": {"type": "rule", "color": "#111111", "strokeWidth": 2.3, "strokeCap": "round"}, "encoding": {"x2": {"field": "x2"}, "y2": {"field": "y2"}}},
{"data": {"name": "texts"}, "transform": [{"filter": "datum.g === 'n'"}], "mark": {"type": "text", "font": "Liberation Sans", "fontWeight": "bold", "fontSize": 9.2, "align": "center", "baseline": "middle", "color": "#222222"}, "encoding": {"text": {"field": "t"}}},
{"data": {"name": "texts"}, "transform": [{"filter": "datum.g === 't'"}], "mark": {"type": "text", "font": "Liberation Sans", "fontWeight": "bold", "fontSize": 19, "align": "center", "baseline": "middle", "color": "#111111"}, "encoding": {"text": {"field": "t"}}},
{"data": {"name": "texts"}, "transform": [{"filter": "datum.g === 's'"}], "mark": {"type": "text", "font": "Liberation Sans", "fontWeight": "bold", "fontSize": 16.5, "align": "center", "baseline": "middle", "color": "#111111"}, "encoding": {"text": {"field": "t"}}},
{"data": {"name": "texts"}, "transform": [{"filter": "datum.g === 'h'"}], "mark": {"type": "text", "font": "Liberation Sans", "fontWeight": "bold", "fontSize": 18.5, "align": "center", "baseline": "middle", "color": "#111111"}, "encoding": {"text": {"field": "t"}}},
{"data": {"name": "texts"}, "transform": [{"filter": "datum.g === 'l'"}], "mark": {"type": "text", "font": "Liberation Sans", "fontWeight": "bold", "fontSize": 12.9, "align": "left", "baseline": "middle", "color": "#111111"}, "encoding": {"text": {"field": "t"}}},
{"data": {"name": "texts"}, "transform": [{"filter": "datum.g === 'fig'"}], "mark": {"type": "text", "font": "Open Sans", "fontWeight": 600, "fontSize": 14.8, "align": "left", "baseline": "middle", "color": "#6a6a6a"}, "encoding": {"text": {"field": "t"}}},
{"data": {"name": "texts"}, "transform": [{"filter": "datum.g === 'c'"}], "mark": {"type": "text", "font": "Open Sans", "fontSize": 18.2, "align": "left", "baseline": "middle", "color": "#555555"}, "encoding": {"text": {"field": "t"}}}
]
}
